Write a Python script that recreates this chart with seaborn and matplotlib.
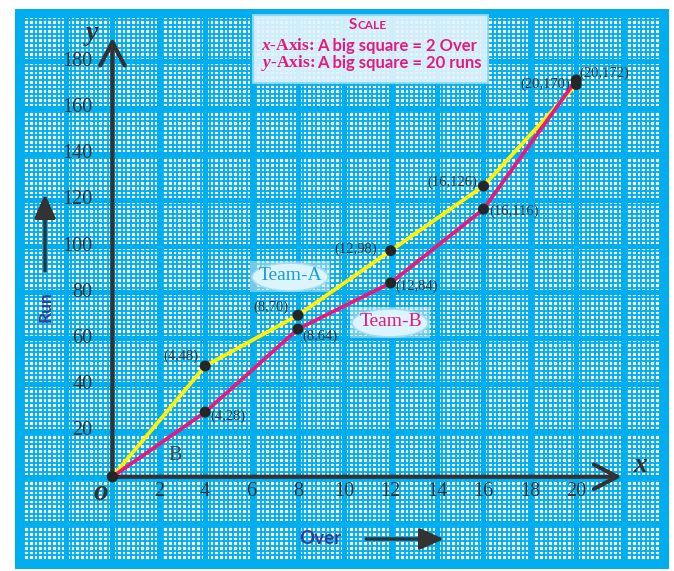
import matplotlib
matplotlib.use("Agg")
import matplotlib.pyplot as plt
from matplotlib.patches import Ellipse, Rectangle
import seaborn as sns
import numpy as np
import pandas as pd

# data
overs = [0, 4, 8, 12, 16, 20]
team_a_runs = [0, 48, 70, 98, 126, 170]
team_b_runs = [0, 28, 64, 84, 116, 172]
x_ticks = [2, 4, 6, 8, 10, 12, 14, 16, 18, 20]
y_ticks = [20, 40, 60, 80, 100, 120, 140, 160, 180]

# label offsets in pixels (skip origin)
offs_a = [(-7, 10), (-9, 8), (-14, 1), (-6, 4), (-6, 0)]
offs_b = [(5, -4), (4, -7), (5, -3), (6, -2), (3, 7)]

df = pd.DataFrame({
    "Over": overs + overs,
    "Run": team_a_runs + team_b_runs,
    "Team": ["Team-A"] * len(overs) + ["Team-B"] * len(overs),
})

BLUE = "#00aeef"
DARK = "#333333"
YELLOW = "#fff200"
PINK = "#e6197f"
SERIF = "Liberation Serif"
SANS = "Lato"

plt.rcParams["mathtext.fontset"] = "custom"
plt.rcParams["mathtext.it"] = "Liberation Serif:italic:bold"
plt.rcParams["mathtext.rm"] = "Liberation Serif:bold"

W, H = 674, 571
fig = plt.figure(figsize=(W / 100, H / 100), dpi=100)

# graph paper area in pixels
px0, px1, py0, py1 = 15, 669, 9, 569
ax = fig.add_axes([px0 / W, 1 - py1 / H, (px1 - px0) / W, (py1 - py0) / H])
ox, oy, sx, sy = 113, 481.6, 23.5, 2.331  # origin px, px per over, px per run

sns.lineplot(data=df, x="Over", y="Run", hue="Team", palette={"Team-A": YELLOW, "Team-B": PINK},
             lw=2.7, legend=False, ax=ax, zorder=4)
sns.scatterplot(data=df, x="Over", y="Run", color="#262626", s=62, edgecolor="none",
                legend=False, ax=ax, zorder=5)
ax.set_xlabel("")
ax.set_ylabel("")

ax.set_xlim((px0 - ox) / sx, (px1 - ox) / sx)
ax.set_ylim((oy - py1) / sy, (oy - py0) / sy)

# graph paper grid
ax.set_xticks(np.arange(-4, 25, 2))
ax.set_xticks(np.arange(-4.2, 24, 0.2), minor=True)
ax.set_yticks(np.arange(-40, 210, 20))
ax.set_yticks(np.arange(-38, 204, 2), minor=True)
ax.grid(which="major", color=BLUE, lw=3.6)
ax.grid(which="minor", color=BLUE, lw=1.35)
ax.tick_params(which="both", length=0, labelbottom=False, labelleft=False)
ax.set_axisbelow(True)
for s in ax.spines.values():
    s.set_visible(False)
ax.add_patch(Rectangle((0, 0), 1, 1, transform=ax.transAxes, fill=False, ec=BLUE, lw=13, zorder=1.5))

# axes arrows
arr = dict(arrowstyle="->,head_length=1.05,head_width=0.55", lw=3, color=DARK,
           mutation_scale=16, shrinkA=0, shrinkB=0)
ax.annotate("", xy=(21.96, 0), xytext=(0, 0), arrowprops=arr, zorder=3)
ax.annotate("", xy=(0, 190.3), xytext=(0, 0), arrowprops=arr, zorder=3)

# tick labels
for v in x_ticks:
    ax.text(v, -6.6, str(v), ha="center", va="center", family=SERIF, size=14.5, color=DARK)
for v in y_ticks:
    ax.text(-0.85, v, str(v), ha="right", va="center", family=SERIF, size=14.5, color=DARK)

# point labels
for xs, ys, offs in [(overs, team_a_runs, offs_a), (overs, team_b_runs, offs_b)]:
    for x, y, (dx, dy) in zip(xs[1:], ys[1:], offs):
        ax.annotate(f"({x},{y})", (x, y), xytext=(dx, dy), textcoords="offset pixels",
                    ha="right" if dx < 0 else "left", va="center", family=SERIF, size=10.5,
                    color=DARK, zorder=6)

# decorations in pixel coordinates
deco = fig.add_axes([0, 0, 1, 1])
deco.set_xlim(0, W)
deco.set_ylim(H, 0)
deco.axis("off")

deco.text(640, 465, "x", family=SERIF, style="italic", weight="bold", size=20, ha="center", va="center", color=DARK)
deco.text(92, 33, "y", family=SERIF, style="italic", weight="bold", size=20, ha="center", va="center", color=DARK)
deco.text(101, 492, "o", family=SERIF, style="italic", weight="bold", size=21, ha="center", va="center", color=DARK)
deco.text(175, 455, "B", family=SERIF, size=14.5, ha="center", va="center", color="#444444")

# scale box
deco.add_patch(Rectangle((253, 15), 235, 68, fc="#e2f4fa", ec="#8fd8f2", lw=1.5, alpha=0.92))
deco.text(349, 29, "S", family=SANS, weight="bold", size=11, ha="left", va="baseline", color=PINK)
deco.text(358, 29, "CALE", family=SANS, weight="bold", size=8.5, ha="left", va="baseline", color=PINK)
deco.text(315, 46, r"$\mathit{x}$-Axis:", family=SERIF, weight="bold", size=12.5, ha="right", va="center", color=PINK)
deco.text(317, 46, "A big square = 2 Over", family=SANS, weight="bold", size=12, ha="left", va="center", color=PINK)
deco.text(315, 63, r"$\mathit{y}$-Axis:", family=SERIF, weight="bold", size=12.5, ha="right", va="center", color=PINK)
deco.text(317, 63, "A big square = 20 runs", family=SANS, weight="bold", size=12, ha="left", va="center", color=PINK)

# team tags
for (cx, cy), name, col in [((290, 277), "Team-A", "#1b9fd8"), ((390, 323), "Team-B", PINK)]:
    deco.add_patch(Rectangle((cx - 40, cy - 16), 80, 31, fc="#c8e6ec", alpha=0.55, ec="none"))
    deco.add_patch(Ellipse((cx, cy), 76, 28, fc="#dcf4fc", ec="#9fdcf3", lw=1.2))
    deco.text(cx + 1, cy - 1, name, family=SERIF, size=14, ha="center", va="center", color=col)

# Run / Over labels with arrows
deco.text(46, 307, "Run", family=SANS, weight="bold", size=12.5, rotation=90, ha="center", va="center", color="#3a3b8f")
deco.text(320, 539, "Over", family=SANS, weight="bold", size=13.5, ha="center", va="center", color="#3a3b8f")
harr = dict(arrowstyle="-|>,head_length=0.9,head_width=0.4", lw=2.5, color=DARK,
            mutation_scale=16, shrinkA=0, shrinkB=0)
deco.annotate("", xy=(45, 194), xytext=(45, 271), arrowprops=harr)
deco.annotate("", xy=(444, 539), xytext=(366, 539), arrowprops=harr)

fig.savefig("out.png", dpi=100, facecolor="white")
